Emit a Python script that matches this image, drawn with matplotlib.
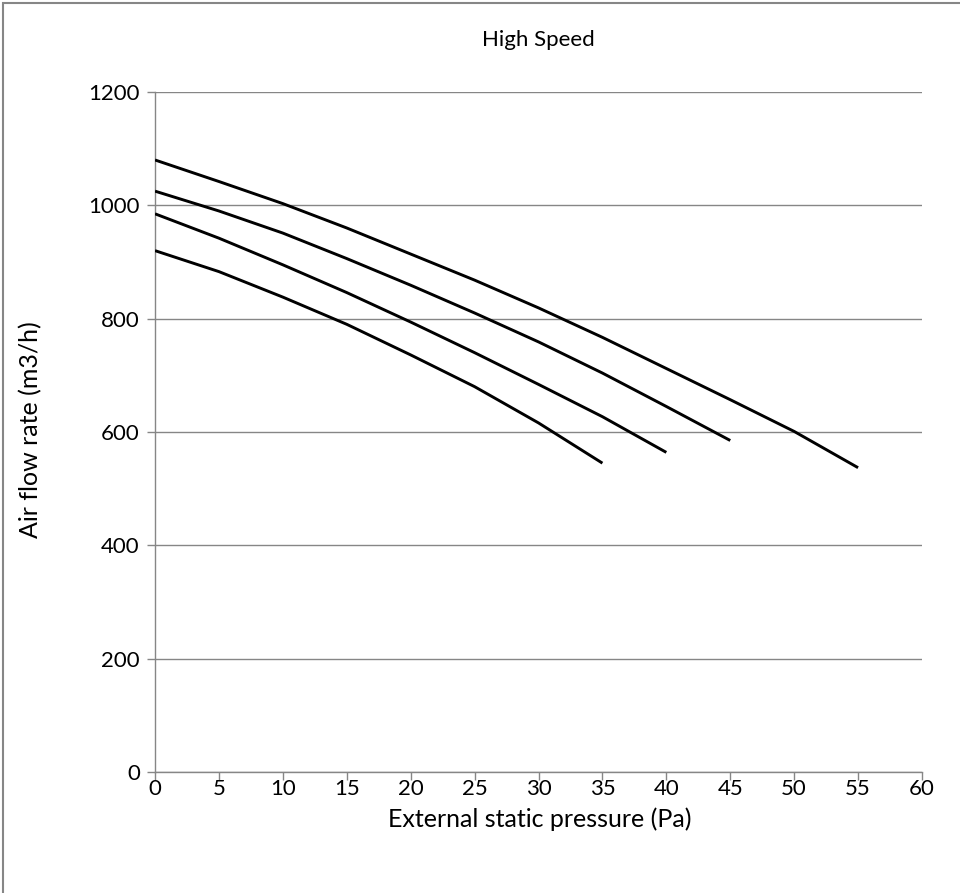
import matplotlib
matplotlib.use("Agg")
import matplotlib.pyplot as plt
from matplotlib.patches import Rectangle

plt.rcParams['font.family'] = ['Lato', 'DejaVu Sans']

# pressure (Pa) and air flow (m3/h) for each curve
p1 = [0, 5, 10, 15, 20, 25, 30, 35, 40, 45, 50, 55]
q1 = [1080, 1042, 1003, 960, 914, 868, 819, 767, 712, 657, 601, 537]
p2 = [0, 5, 10, 15, 20, 25, 30, 35, 40, 45]
q2 = [1025, 990, 951, 906, 859, 810, 759, 704, 645, 585]
p3 = [0, 5, 10, 15, 20, 25, 30, 35, 40]
q3 = [985, 942, 895, 846, 794, 740, 684, 627, 564]
p4 = [0, 5, 10, 15, 20, 25, 30, 35]
q4 = [920, 883, 838, 790, 736, 680, 616, 545]

xticks = list(range(0, 61, 5))
yticks = list(range(0, 1201, 200))

grey = '#868686'

fig = plt.figure(figsize=(9.6, 8.93), dpi=100)
ax = fig.add_axes([0.1615, 0.1355, 0.7989, 0.7615])

for p, q in [(p1, q1), (p2, q2), (p3, q3), (p4, q4)]:
    ax.plot(p, q, color='black', lw=2.1, solid_capstyle='butt', zorder=3)

ax.set_xlim(0, 60)
ax.set_ylim(0, 1200)
ax.set_xticks(xticks)
ax.set_yticks(yticks)
ax.grid(axis='y', color=grey, lw=1)
ax.set_axisbelow(True)

for s in ['top', 'right']:
    ax.spines[s].set_visible(False)
for s in ['left', 'bottom']:
    ax.spines[s].set_color(grey)
    ax.spines[s].set_linewidth(1)
ax.tick_params(axis='both', colors=grey, length=6, width=1, labelsize=16,
               labelcolor='black')
ax.tick_params(axis='x', pad=-1)
ax.tick_params(axis='y', pad=5)

fig.text(0.5605, (893 - 40) / 893, 'High Speed', fontsize=16,
         ha='center', va='center')
ax.set_xlabel('External static pressure (Pa)', fontsize=18)
ax.set_ylabel('Air flow rate (m3/h)', fontsize=18)
ax.xaxis.set_label_coords(0.502, -0.052)
ax.yaxis.set_label_coords(-0.147, 0.503)

# outer chart border (only left and top edges fall inside the picture)
fig.patches.append(Rectangle((0.003, -0.01), 1.05, 1.007, transform=fig.transFigure,
                             fill=False, edgecolor=grey, lw=1.5))

fig.savefig('out.png', dpi=100)
